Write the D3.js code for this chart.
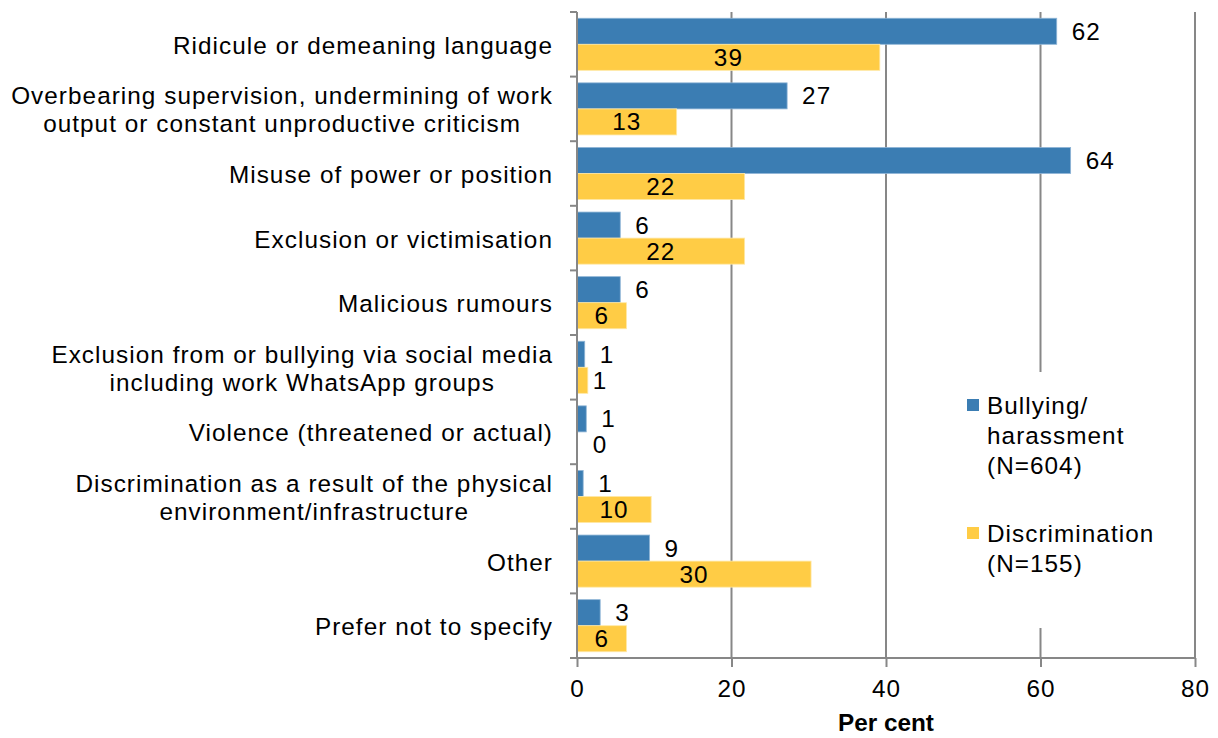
<!DOCTYPE html>
<html>
<head>
<meta charset="utf-8">
<script src="https://cdn.jsdelivr.net/npm/d3@7"></script>
<style>
  body { margin: 0; background: #fff; }
  svg text { font-family: "Liberation Sans", Arial, sans-serif; fill: #000; }
</style>
</head>
<body>
<svg width="1218" height="738"></svg>
<script>
// categories, lines split by "|"
var categories = [
  "Ridicule or demeaning language",
  "Overbearing supervision, undermining of work|output or constant unproductive criticism",
  "Misuse of power or position",
  "Exclusion or victimisation",
  "Malicious rumours",
  "Exclusion from or bullying via social media|including work WhatsApp groups",
  "Violence (threatened or actual)",
  "Discrimination as a result of the physical|environment/infrastructure",
  "Other",
  "Prefer not to specify"
];
var bullying =       [62.1, 27.2, 63.9, 5.6, 5.6, 1.0, 1.2, 0.8, 9.4, 3.0];
var discrimination = [39.2, 12.9, 21.7, 21.7, 6.4, 1.4, 0.0, 9.6, 30.3, 6.4];
var seriesNames = [["Bullying/", "harassment", "(N=604)"], ["Discrimination", "(N=155)"]];
var xTicks = [0, 20, 40, 60, 80];

var blue = "#3b7db3", yellow = "#ffcc45", grey = "#878787";
var fs = 24.3, ls = "1.05px";

var svg = d3.select("svg");
var pLeft = 577, pRight = 1195, pTop = 12, pBottom = 658;

var x = d3.scaleLinear().domain([0, 80]).range([pLeft, pRight]);
var y = d3.scaleBand().domain(d3.range(categories.length)).range([pTop, pBottom]).padding(0);
var inner = d3.scaleBand().domain([0, 1]).range([0, y.bandwidth()]).paddingInner(0).paddingOuter(0.24);

// gridlines
svg.append("g").selectAll("line").data(xTicks.slice(1)).enter().append("line")
  .attr("x1", d => x(d)).attr("x2", d => x(d))
  .attr("y1", pTop).attr("y2", pBottom)
  .attr("stroke", grey).attr("stroke-width", 2);

// bars
var rows = svg.append("g").selectAll("g").data(categories).enter().append("g")
  .attr("transform", (d, i) => "translate(0," + y(i) + ")");

rows.append("rect")
  .attr("x", x(0)).attr("y", inner(0))
  .attr("width", (d, i) => x(bullying[i]) - x(0))
  .attr("height", inner.bandwidth())
  .attr("fill", blue).attr("stroke", "#8fb5d6").attr("stroke-width", 0.8);

rows.append("rect")
  .attr("x", x(0)).attr("y", inner(1))
  .attr("width", (d, i) => x(discrimination[i]) - x(0))
  .attr("height", inner.bandwidth())
  .attr("fill", yellow).attr("stroke", "#ffe8a6").attr("stroke-width", 0.8);

// value labels
rows.append("text")
  .attr("x", (d, i) => x(bullying[i]) + 15)
  .attr("y", inner(0) + inner.bandwidth() / 2)
  .attr("dy", "0.35em")
  .style("font-size", fs + "px").style("letter-spacing", ls)
  .text((d, i) => Math.round(bullying[i]));

rows.append("text")
  .attr("x", (d, i) => Math.max((x(0) + x(discrimination[i])) / 2, x(0) + 23))
  .attr("y", inner(1) + inner.bandwidth() / 2)
  .attr("dy", "0.35em")
  .attr("text-anchor", "middle")
  .style("font-size", fs + "px").style("letter-spacing", ls)
  .text((d, i) => Math.round(discrimination[i]));

// category labels (block right aligned, lines centred)
rows.each(function(d, i) {
  var lines = d.split("|");
  var g = d3.select(this).append("g");
  var lh = 28;
  var texts = g.selectAll("text").data(lines).enter().append("text")
    .attr("y", (l, j) => y.bandwidth() / 2 + (j - (lines.length - 1) / 2) * lh + 1)
    .attr("dy", "0.35em")
    .attr("text-anchor", "middle")
    .style("font-size", fs + "px").style("letter-spacing", ls)
    .text(l => l);
  var w = d3.max(texts.nodes(), n => n.getComputedTextLength());
  texts.attr("x", 553 - w / 2);
});

// legend with white box hiding the gridline behind it
var lg = svg.append("g");
lg.append("rect").attr("x", 955).attr("y", 372).attr("width", 225).attr("height", 256).attr("fill", "#fff");
var legendY = [405, 533];
seriesNames.forEach(function(lines, k) {
  lg.append("rect").attr("x", 967).attr("y", legendY[k] - 6).attr("width", 12).attr("height", 12)
    .attr("fill", k === 0 ? blue : yellow);
  lines.forEach(function(l, j) {
    lg.append("text").attr("x", 987).attr("y", legendY[k] + j * 30).attr("dy", "0.35em")
      .style("font-size", fs + "px").style("letter-spacing", ls).text(l);
  });
});

// y axis with ticks at band boundaries
svg.append("line").attr("x1", pLeft).attr("x2", pLeft).attr("y1", pTop).attr("y2", pBottom)
  .attr("stroke", grey).attr("stroke-width", 2);
svg.append("g").selectAll("line").data(d3.range(categories.length + 1)).enter().append("line")
  .attr("x1", pLeft - 7).attr("x2", pLeft)
  .attr("y1", i => pTop + i * y.step()).attr("y2", i => pTop + i * y.step())
  .attr("stroke", grey).attr("stroke-width", 2);

// x axis
var xa = svg.append("g").attr("transform", "translate(0," + pBottom + ")")
  .call(d3.axisBottom(x).tickValues(xTicks).tickSize(9).tickPadding(13));
xa.select(".domain").attr("stroke", grey).attr("stroke-width", 2).attr("d", "M" + (pLeft - 7) + ",0H" + pRight);
xa.selectAll(".tick line").attr("stroke", grey).attr("stroke-width", 2);
xa.selectAll(".tick text").style("font-size", fs + "px").style("letter-spacing", ls)
  .style("font-family", "'Liberation Sans', Arial, sans-serif").attr("fill", "#000");

svg.append("text").attr("x", (pLeft + pRight) / 2).attr("y", 722).attr("dy", "0.35em")
  .attr("text-anchor", "middle").style("font-size", fs + "px").style("font-weight", "bold")
  .text("Per cent");
</script>
</body>
</html>
